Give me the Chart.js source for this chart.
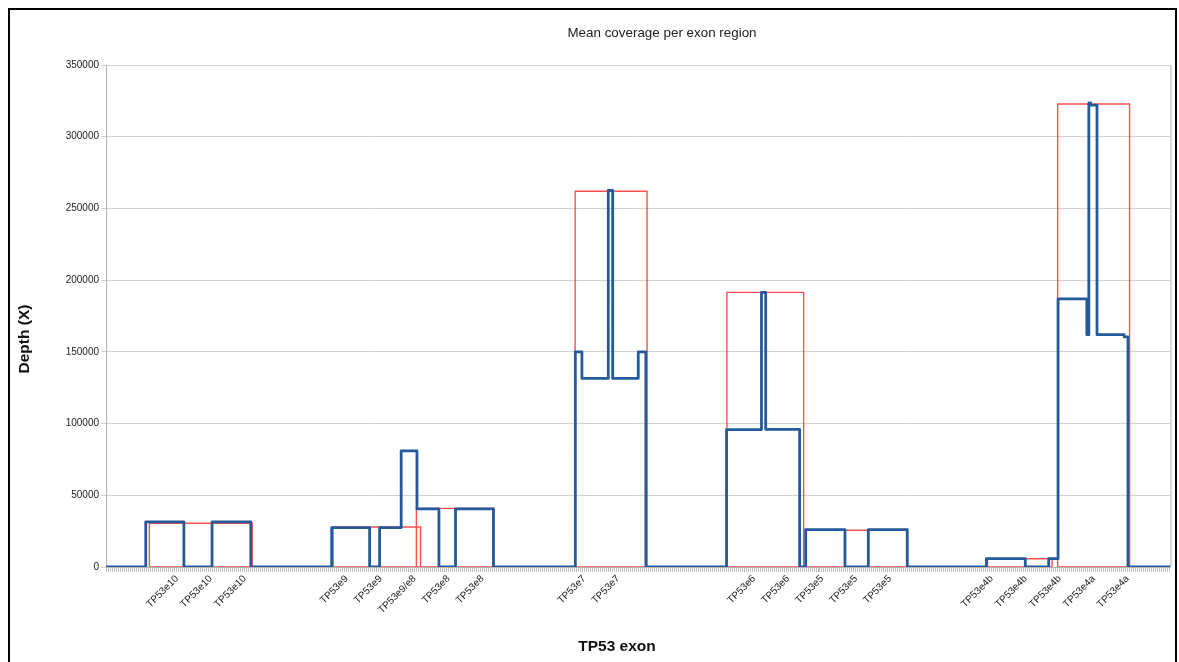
<!DOCTYPE html>
<html><head><meta charset="utf-8">
<script src="https://cdn.jsdelivr.net/npm/chart.js@4.4.1/dist/chart.umd.min.js"></script>
<style>
html,body{margin:0;padding:0;background:#fff;}
#wrap{position:relative;width:1179px;height:662px;overflow:hidden;}
#frame{position:absolute;left:8px;top:8px;width:1169px;height:720px;border:2px solid #000;box-sizing:border-box;pointer-events:none;}
canvas{position:absolute;left:0;top:0;}
</style></head><body>
<div id="wrap"><canvas id="c" width="1179" height="662"></canvas><div id="frame"></div></div>
<script>
const chartTitle = 'Mean coverage per exon region';
const xTitle = 'TP53 exon';
const yTitle = 'Depth (X)';
const positionCount = 533;
const yMax = 350000, yStep = 50000;

// shown category labels (position index, text)
const tickIndex = [35, 52, 69, 120, 137, 154, 171, 188, 239, 256, 324, 341, 358, 375, 392, 443, 460, 477, 494, 511];
const tickNames = ['TP53e10','TP53e10','TP53e10','TP53e9','TP53e9','TP53e9/e8','TP53e8','TP53e8','TP53e7','TP53e7',
                   'TP53e6','TP53e6','TP53e5','TP53e5','TP53e5','TP53e4b','TP53e4b','TP53e4b','TP53e4a','TP53e4a'];

// per-position depth: position where the depth changes, and the new depth
const depthChangeAt = [-0.5, 19.4, 38.5, 52.6, 72, 112.5, 131.5, 136.5, 147.3, 155.2, 166.2, 174.5, 193.5,
  234.5, 237.8, 251, 253.2, 266, 269.8, 310.2, 327.7, 329.8, 346.8, 349.8, 369.5, 381.2, 400.7,
  440.3, 459.8, 471.5, 476.2, 490.6, 491.6, 492.5, 495.7, 509.3, 511.2, 532.5];
const depthValue = [0, 31500, 0, 31500, 0, 27500, 0, 27500, 81000, 40500, 0, 40500, 0,
  150000, 131500, 262500, 131500, 150000, 0, 95800, 191500, 96000, 0, 26000, 0, 26000, 0,
  5800, 0, 5800, 187000, 162000, 323500, 322000, 162000, 160500, 0, 0];

// mean coverage per exon region
const exonStart = [21.2, 113.2, 154.9, 234.4, 310.4, 350.2, 440.9, 476.0];
const exonEnd   = [72.7, 157.0, 193.7, 270.4, 348.8, 400.7, 473.2, 512.0];
const exonMean  = [30500, 27900, 40900, 262000, 191500, 25600, 5700, 322800];

const depthData = depthChangeAt.map((x, i) => ({x: x, y: depthValue[i]}));
const meanData = [];
exonStart.forEach((s, i) => {
  const e = exonEnd[i], m = exonMean[i];
  meanData.push({x: s, y: 0}, {x: s, y: m}, {x: e, y: m}, {x: e, y: 0}, {x: s, y: 0}, {x: e, y: null});
});
const labelAt = {};
tickIndex.forEach((p, i) => { labelAt[p] = tickNames[i]; });

const FONT = "'Liberation Sans', Arial, sans-serif";

const textPlugin = {
  id: 'texts',
  afterDraw(chart) {
    const ctx = chart.ctx, a = chart.chartArea;
    ctx.save();
    ctx.strokeStyle = '#b3b3b3';
    ctx.lineWidth = 1;
    ctx.beginPath();
    ctx.moveTo(a.right + 0.5, a.top);
    ctx.lineTo(a.right + 0.5, a.bottom);
    ctx.stroke();
    ctx.fillStyle = '#222';
    ctx.textAlign = 'center';
    ctx.textBaseline = 'middle';
    ctx.font = '13.4px ' + FONT;
    ctx.fillText(chartTitle, 662, 33);
    ctx.fillStyle = '#111';
    ctx.font = 'bold 15.5px ' + FONT;
    ctx.fillText(xTitle, 617, 647);
    ctx.translate(25, 339);
    ctx.rotate(-Math.PI / 2);
    ctx.fillText(yTitle, 0, 0);
    ctx.restore();
  }
};

new Chart(document.getElementById('c'), {
  type: 'line',
  data: {
    datasets: [
      { label: 'Depth', data: depthData, borderColor: '#245a99', borderWidth: 2.8, pointRadius: 0,
        stepped: 'before', fill: false, borderJoinStyle: 'round' },
      { label: 'Mean', data: meanData, borderColor: 'rgba(255,20,20,0.75)', borderWidth: 1.4, pointRadius: 0,
        fill: false, spanGaps: false }
    ]
  },
  options: {
    responsive: false,
    animation: false,
    devicePixelRatio: 1,
    layout: { padding: { top: 65, right: 8, left: 0, bottom: 0 } },
    plugins: { legend: { display: false }, title: { display: false }, tooltip: { enabled: false } },
    scales: {
      x: {
        type: 'linear', min: -0.5, max: positionCount - 0.5,
        afterBuildTicks: s => { s.ticks = Array.from({length: positionCount}, (_, i) => ({value: i})); },
        afterFit: s => { s.height = 95; },
        grid: { drawOnChartArea: false, tickLength: 5, color: '#bdbdbd' },
        border: { color: '#b3b3b3' },
        ticks: { autoSkip: false, minRotation: 45, maxRotation: 45, padding: 1,
          font: { family: FONT, size: 10 }, color: '#222',
          callback: v => labelAt[v] || '' }
      },
      y: {
        min: 0, max: yMax,
        afterFit: s => { s.width = 106; },
        grid: { color: '#d2d2d2', tickLength: 5 },
        border: { color: '#b3b3b3' },
        ticks: { stepSize: yStep, padding: 2, font: { family: FONT, size: 10 }, color: '#222',
          callback: v => String(v) }
      }
    }
  },
  plugins: [textPlugin]
});
</script>
</body></html>
